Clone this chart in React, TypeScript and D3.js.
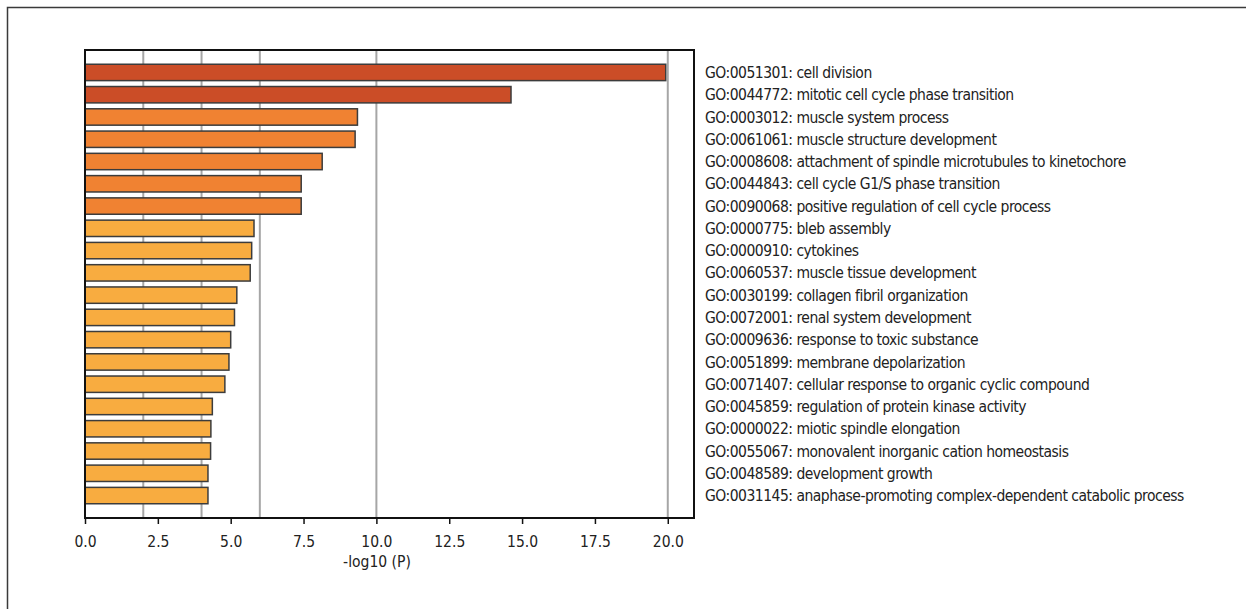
import { useRef, useEffect } from 'react';
import * as d3 from 'd3';

const goTerms = [
  'GO:0051301: cell division',
  'GO:0044772: mitotic cell cycle phase transition',
  'GO:0003012: muscle system process',
  'GO:0061061: muscle structure development',
  'GO:0008608: attachment of spindle microtubules to kinetochore',
  'GO:0044843: cell cycle G1/S phase transition',
  'GO:0090068: positive regulation of cell cycle process',
  'GO:0000775: bleb assembly',
  'GO:0000910: cytokines',
  'GO:0060537: muscle tissue development',
  'GO:0030199: collagen fibril organization',
  'GO:0072001: renal system development',
  'GO:0009636: response to toxic substance',
  'GO:0051899: membrane depolarization',
  'GO:0071407: cellular response to organic cyclic compound',
  'GO:0045859: regulation of protein kinase activity',
  'GO:0000022: miotic spindle elongation',
  'GO:0055067: monovalent inorganic cation homeostasis',
  'GO:0048589: development growth',
  'GO:0031145: anaphase-promoting complex-dependent catabolic process',
];

const logP = [
  19.93, 14.62, 9.35, 9.27, 8.14, 7.42, 7.42, 5.8, 5.72, 5.67,
  5.21, 5.13, 5.0, 4.94, 4.8, 4.37, 4.32, 4.31, 4.22, 4.22,
];

const xTicks = [0, 2.5, 5, 7.5, 10, 12.5, 15, 17.5, 20];
const gridValues = [2, 4, 6, 10, 20];

const W = 1246;
const H = 609;
const FONT = '"DejaVu Sans Condensed", "Liberation Sans Narrow", sans-serif';

const barColor = (v: number) => (v >= 10 ? '#CB4D27' : v >= 7 ? '#F08232' : '#F8AC40');

const App = () => {
  const svgRef = useRef<SVGSVGElement>(null);

  useEffect(() => {
    if (!svgRef.current) return;
    const root = d3.select(svgRef.current);
    root.selectAll('*').remove();

    const left = 85, right = 694, top = 50, bottom = 518;

    const x = d3.scaleLinear().domain([0, 20.9]).range([left, right]);
    const y = d3.scaleBand<string>().domain(goTerms).range([top, bottom]).paddingInner(0.265).paddingOuter(0.64);

    // outer frame, cut off on the right and bottom
    root.append('rect')
      .attr('x', 7.5).attr('y', 7.5)
      .attr('width', W + 20).attr('height', H + 20)
      .attr('fill', 'none').attr('stroke', '#3a3a3a').attr('stroke-width', 1.5);

    // grid
    root.append('g')
      .selectAll('line')
      .data(gridValues)
      .enter()
      .append('line')
      .attr('x1', d => x(d)).attr('x2', d => x(d))
      .attr('y1', top).attr('y2', bottom)
      .attr('stroke', '#a6a6a6').attr('stroke-width', 2);

    // bars
    root.append('g')
      .selectAll('rect')
      .data(goTerms)
      .enter()
      .append('rect')
      .attr('x', x(0))
      .attr('y', d => y(d)!)
      .attr('width', (d, i) => x(logP[i]) - x(0))
      .attr('height', y.bandwidth())
      .attr('fill', (d, i) => barColor(logP[i]))
      .attr('stroke', '#3c3c3c')
      .attr('stroke-width', 1.5);

    // plot frame
    root.append('rect')
      .attr('x', left).attr('y', top)
      .attr('width', right - left).attr('height', bottom - top)
      .attr('fill', 'none').attr('stroke', '#111').attr('stroke-width', 2);

    // x axis
    const xAxis = root.append('g')
      .attr('transform', `translate(0,${bottom})`)
      .call(d3.axisBottom(x).tickValues(xTicks).tickFormat(d3.format('.1f')).tickSize(6).tickPadding(12));
    xAxis.select('.domain').remove();
    xAxis.selectAll('line').attr('stroke', '#111').attr('stroke-width', 1.5);
    xAxis.selectAll('text')
      .attr('font-family', FONT)
      .attr('font-size', 15.5)
      .attr('fill', '#222');

    root.append('text')
      .attr('x', 377).attr('y', 567)
      .attr('text-anchor', 'middle')
      .attr('font-family', FONT)
      .attr('font-size', 15.5)
      .attr('fill', '#222')
      .text('-log10 (P)');

    // term labels
    root.append('g')
      .selectAll('text')
      .data(goTerms)
      .enter()
      .append('text')
      .attr('x', 705)
      .attr('y', d => y(d)! + y.bandwidth() / 2)
      .attr('dy', '0.36em')
      .attr('font-family', FONT)
      .attr('font-size', 15.5)
      .attr('letter-spacing', -0.5)
      .attr('fill', '#222')
      .text(d => d);
  }, []);

  return (
    <svg
      ref={svgRef}
      width={W}
      height={H}
      style={{ position: 'absolute', left: 0, top: 0, background: '#fff' }}
    />
  );
};

export default App;
